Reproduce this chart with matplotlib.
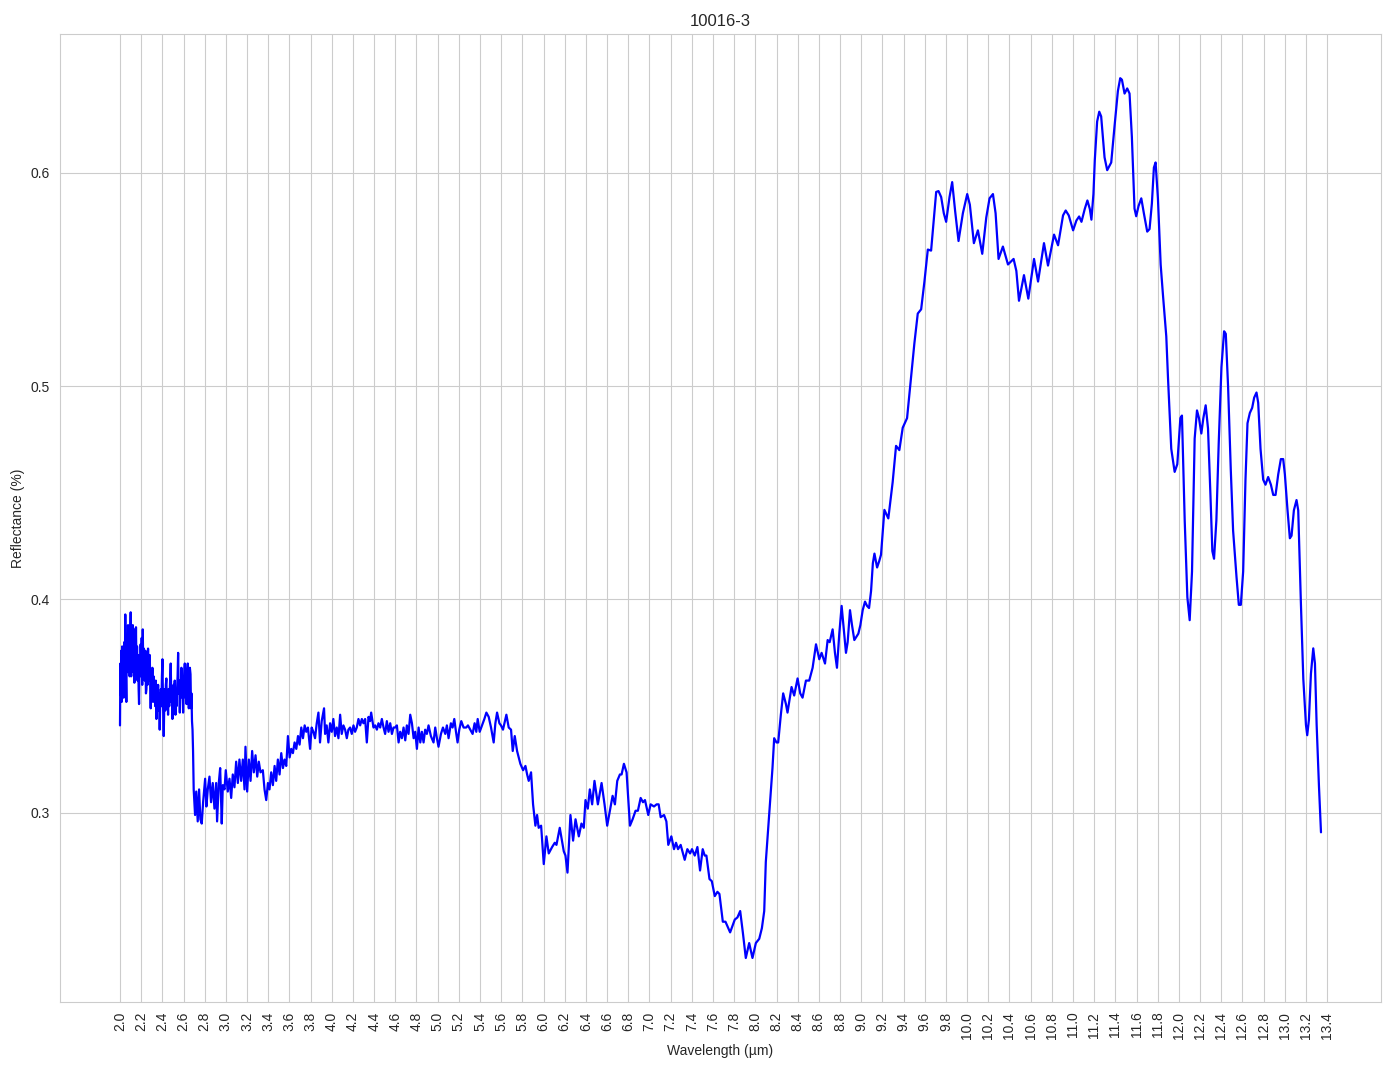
import numpy as np
import matplotlib
matplotlib.use("Agg")
import matplotlib.pyplot as plt
import seaborn as sns

title = "10016-3"
x_label = "Wavelength (µm)"
y_label = "Reflectance (%)"

# 2.00 - 2.69 noisy start
wl_a = [2.000, 2.004, 2.008, 2.012, 2.016, 2.020, 2.025, 2.030, 2.035, 2.040, 2.045, 2.050, 2.055, 2.060,
        2.065, 2.070, 2.076, 2.081, 2.086, 2.091, 2.096, 2.101, 2.106, 2.111, 2.116, 2.121, 2.126, 2.131,
        2.136, 2.141, 2.146, 2.151, 2.156, 2.161, 2.166, 2.171, 2.176, 2.180, 2.185, 2.190, 2.195, 2.200,
        2.205, 2.210, 2.215, 2.220, 2.225, 2.230, 2.235, 2.240, 2.245, 2.250, 2.255, 2.260, 2.265, 2.270,
        2.275, 2.281, 2.286, 2.290, 2.295, 2.300, 2.306, 2.312, 2.317, 2.322, 2.328, 2.333, 2.338, 2.344,
        2.349, 2.354, 2.360, 2.365, 2.370, 2.375, 2.380, 2.386, 2.391, 2.396, 2.401, 2.406, 2.413, 2.418,
        2.423, 2.428, 2.433, 2.438, 2.443, 2.449, 2.454, 2.459, 2.465, 2.470, 2.475, 2.479, 2.485, 2.490,
        2.495, 2.500, 2.506, 2.511, 2.517, 2.524, 2.529, 2.534, 2.539, 2.544, 2.549, 2.554, 2.559, 2.565,
        2.570, 2.575, 2.580, 2.585, 2.590, 2.596, 2.601, 2.606, 2.612, 2.617, 2.622, 2.628, 2.634, 2.640,
        2.645, 2.650, 2.655, 2.660, 2.666, 2.671, 2.675, 2.680, 2.685]
r_a = [0.341, 0.370, 0.355, 0.376, 0.352, 0.378, 0.360, 0.372, 0.354, 0.380, 0.362, 0.393, 0.365, 0.352,
       0.382, 0.366, 0.388, 0.368, 0.384, 0.364, 0.380, 0.394, 0.364, 0.385, 0.370, 0.388, 0.366, 0.380,
       0.361, 0.386, 0.368, 0.387, 0.365, 0.378, 0.362, 0.374, 0.358, 0.351, 0.372, 0.364, 0.379, 0.366,
       0.382, 0.360, 0.386, 0.368, 0.377, 0.374, 0.362, 0.376, 0.356, 0.358, 0.371, 0.360, 0.377, 0.362,
       0.370, 0.374, 0.360, 0.349, 0.366, 0.356, 0.368, 0.352, 0.364, 0.356, 0.361, 0.350, 0.362, 0.344,
       0.358, 0.350, 0.360, 0.348, 0.356, 0.339, 0.352, 0.358, 0.350, 0.364, 0.372, 0.352, 0.336, 0.350,
       0.358, 0.348, 0.360, 0.363, 0.350, 0.356, 0.346, 0.358, 0.350, 0.357, 0.364, 0.370, 0.352, 0.358,
       0.344, 0.354, 0.360, 0.352, 0.362, 0.346, 0.356, 0.350, 0.358, 0.364, 0.375, 0.356, 0.362, 0.347,
       0.360, 0.354, 0.368, 0.356, 0.362, 0.347, 0.358, 0.364, 0.370, 0.354, 0.362, 0.351, 0.366, 0.370,
       0.356, 0.349, 0.362, 0.368, 0.365, 0.349, 0.356, 0.343, 0.339]

# 2.69 - 3.82
wl_b = [2.690, 2.696, 2.709, 2.720, 2.734, 2.747, 2.759, 2.772, 2.785, 2.804, 2.816, 2.829, 2.845, 2.860,
        2.876, 2.892, 2.908, 2.917, 2.933, 2.946, 2.961, 2.971, 2.987, 2.999, 3.018, 3.034, 3.050, 3.065,
        3.081, 3.097, 3.113, 3.128, 3.144, 3.160, 3.176, 3.185, 3.201, 3.217, 3.233, 3.248, 3.264, 3.280,
        3.296, 3.311, 3.327, 3.349, 3.365, 3.381, 3.397, 3.412, 3.428, 3.444, 3.460, 3.475, 3.491, 3.507,
        3.523, 3.539, 3.554, 3.570, 3.586, 3.602, 3.617, 3.633, 3.649, 3.665, 3.681, 3.696, 3.712, 3.728,
        3.744, 3.759, 3.775, 3.795, 3.810]
r_b = [0.329, 0.311, 0.299, 0.310, 0.296, 0.311, 0.297, 0.295, 0.305, 0.316, 0.303, 0.311, 0.317, 0.305,
       0.314, 0.302, 0.314, 0.296, 0.314, 0.321, 0.295, 0.313, 0.311, 0.320, 0.310, 0.316, 0.307, 0.318,
       0.312, 0.324, 0.314, 0.325, 0.315, 0.325, 0.311, 0.331, 0.310, 0.325, 0.315, 0.329, 0.319, 0.327,
       0.317, 0.324, 0.319, 0.320, 0.311, 0.306, 0.314, 0.311, 0.319, 0.313, 0.322, 0.315, 0.325, 0.318,
       0.328, 0.321, 0.325, 0.322, 0.336, 0.326, 0.330, 0.328, 0.333, 0.330, 0.336, 0.332, 0.340, 0.335,
       0.341, 0.338, 0.340, 0.330, 0.340]

# 3.82 - 4.85
wl_c = [3.826, 3.842, 3.858, 3.874, 3.889, 3.905, 3.927, 3.937, 3.952, 3.968, 3.984, 4.000, 4.015, 4.031,
        4.047, 4.063, 4.079, 4.094, 4.110, 4.126, 4.142, 4.157, 4.173, 4.189, 4.205, 4.220, 4.236, 4.252,
        4.268, 4.284, 4.299, 4.315, 4.331, 4.347, 4.362, 4.372, 4.394, 4.410, 4.426, 4.441, 4.457, 4.473,
        4.489, 4.504, 4.520, 4.536, 4.552, 4.568, 4.583, 4.599, 4.615, 4.631, 4.646, 4.662, 4.678, 4.694,
        4.709, 4.725, 4.741, 4.757, 4.773, 4.788, 4.804, 4.820, 4.836]
r_c = [0.338, 0.335, 0.342, 0.347, 0.333, 0.343, 0.349, 0.337, 0.341, 0.333, 0.342, 0.338, 0.344, 0.336,
       0.340, 0.335, 0.346, 0.337, 0.341, 0.339, 0.335, 0.339, 0.340, 0.337, 0.341, 0.338, 0.340, 0.344,
       0.341, 0.344, 0.342, 0.344, 0.333, 0.345, 0.343, 0.347, 0.340, 0.341, 0.339, 0.342, 0.340, 0.344,
       0.340, 0.337, 0.343, 0.338, 0.342, 0.337, 0.340, 0.340, 0.341, 0.333, 0.338, 0.335, 0.340, 0.334,
       0.341, 0.337, 0.346, 0.342, 0.335, 0.338, 0.330, 0.340, 0.333]

# 4.85 - 5.85
wl_d = [4.851, 4.867, 4.882, 4.898, 4.914, 4.936, 4.961, 4.977, 4.993, 5.008, 5.031, 5.050, 5.072, 5.087,
        5.103, 5.125, 5.141, 5.157, 5.173, 5.188, 5.204, 5.223, 5.245, 5.270, 5.286, 5.308, 5.330, 5.349,
        5.365, 5.378, 5.397, 5.419, 5.441, 5.460, 5.482, 5.504, 5.529, 5.545, 5.561, 5.583, 5.598, 5.617,
        5.649, 5.671, 5.693, 5.709, 5.728, 5.750, 5.781, 5.807, 5.829, 5.845]
r_d = [0.338, 0.333, 0.339, 0.337, 0.341, 0.336, 0.333, 0.340, 0.335, 0.331, 0.337, 0.340, 0.337, 0.341,
       0.335, 0.342, 0.340, 0.344, 0.338, 0.333, 0.339, 0.343, 0.340, 0.340, 0.341, 0.339, 0.337, 0.342,
       0.338, 0.344, 0.338, 0.341, 0.344, 0.347, 0.345, 0.340, 0.333, 0.342, 0.347, 0.342, 0.341, 0.339,
       0.346, 0.340, 0.339, 0.329, 0.336, 0.329, 0.323, 0.320, 0.322, 0.318]

# 5.86 - 8.06
wl_e = [5.860, 5.882, 5.901, 5.923, 5.939, 5.954, 5.977, 6.002, 6.027, 6.049, 6.081, 6.106, 6.122, 6.153,
        6.191, 6.207, 6.226, 6.254, 6.279, 6.302, 6.333, 6.358, 6.380, 6.396, 6.418, 6.437, 6.459, 6.481,
        6.513, 6.548, 6.576, 6.601, 6.626, 6.652, 6.674, 6.696, 6.721, 6.737, 6.759, 6.784, 6.816, 6.841,
        6.869, 6.891, 6.917, 6.939, 6.958, 6.989, 7.011, 7.043, 7.068, 7.087, 7.106, 7.138, 7.160, 7.178,
        7.207, 7.232, 7.251, 7.270, 7.295, 7.333, 7.358, 7.384, 7.402, 7.428, 7.453, 7.478, 7.503, 7.522,
        7.538, 7.567, 7.589, 7.617, 7.642, 7.661, 7.693, 7.718, 7.762, 7.806, 7.831, 7.857, 7.882, 7.910,
        7.942, 7.973, 8.005, 8.037, 8.062]
r_e = [0.315, 0.319, 0.304, 0.294, 0.299, 0.293, 0.294, 0.276, 0.289, 0.281, 0.284, 0.286, 0.285, 0.293,
       0.282, 0.280, 0.272, 0.299, 0.287, 0.297, 0.289, 0.295, 0.293, 0.306, 0.302, 0.311, 0.304, 0.315,
       0.304, 0.314, 0.304, 0.294, 0.301, 0.308, 0.304, 0.315, 0.318, 0.318, 0.323, 0.319, 0.294, 0.297,
       0.301, 0.301, 0.307, 0.305, 0.306, 0.299, 0.304, 0.303, 0.304, 0.304, 0.298, 0.299, 0.296, 0.285,
       0.289, 0.283, 0.286, 0.283, 0.285, 0.278, 0.283, 0.281, 0.283, 0.280, 0.284, 0.273, 0.283, 0.280,
       0.280, 0.269, 0.268, 0.261, 0.263, 0.262, 0.249, 0.249, 0.244, 0.250, 0.251, 0.254, 0.244, 0.232,
       0.239, 0.232, 0.239, 0.241, 0.246]

# 8.08 - 9.17
wl_f = [8.084, 8.099, 8.131, 8.162, 8.178, 8.200, 8.216, 8.241, 8.263, 8.289, 8.304, 8.342, 8.367, 8.399,
        8.424, 8.446, 8.478, 8.509, 8.541, 8.573, 8.604, 8.626, 8.658, 8.683, 8.702, 8.730, 8.752, 8.771,
        8.793, 8.815, 8.834, 8.856, 8.872, 8.894, 8.913, 8.935, 8.973, 8.992, 9.014, 9.036, 9.055, 9.074,
        9.093, 9.110, 9.125, 9.150, 9.170]
r_f = [0.254, 0.277, 0.299, 0.321, 0.335, 0.333, 0.333, 0.346, 0.356, 0.351, 0.347, 0.359, 0.355, 0.363,
       0.356, 0.354, 0.362, 0.362, 0.368, 0.379, 0.372, 0.375, 0.370, 0.381, 0.380, 0.386, 0.375, 0.368,
       0.384, 0.397, 0.387, 0.375, 0.380, 0.395, 0.388, 0.381, 0.384, 0.388, 0.395, 0.399, 0.397, 0.396,
       0.404, 0.417, 0.4215, 0.415, 0.418]

# 9.19 - 11.25
wl_g = [9.187, 9.219, 9.256, 9.297, 9.329, 9.360, 9.392, 9.433, 9.471, 9.502, 9.534, 9.566, 9.597, 9.629,
        9.660, 9.685, 9.708, 9.730, 9.755, 9.780, 9.802, 9.834, 9.859, 9.887, 9.919, 9.960, 10.001, 10.026,
        10.064, 10.102, 10.143, 10.181, 10.212, 10.244, 10.269, 10.297, 10.338, 10.386, 10.439, 10.465,
        10.490, 10.537, 10.578, 10.632, 10.670, 10.726, 10.764, 10.821, 10.859, 10.906, 10.931, 10.960,
        11.001, 11.032, 11.058, 11.080, 11.111, 11.136, 11.159, 11.174, 11.193, 11.206, 11.228, 11.248]
r_g = [0.421, 0.442, 0.438, 0.455, 0.472, 0.470, 0.4805, 0.485, 0.504, 0.520, 0.534, 0.536, 0.549, 0.564,
       0.5635, 0.578, 0.591, 0.5914, 0.5886, 0.581, 0.577, 0.5886, 0.5956, 0.582, 0.568, 0.581, 0.590, 0.585,
       0.567, 0.573, 0.562, 0.579, 0.588, 0.590, 0.581, 0.5596, 0.5654, 0.557, 0.5596, 0.554,
       0.540, 0.552, 0.541, 0.5596, 0.549, 0.567, 0.5565, 0.571, 0.566, 0.580, 0.5823, 0.580,
       0.573, 0.5776, 0.5795, 0.577, 0.583, 0.587, 0.583, 0.578, 0.590, 0.606, 0.624, 0.6286]

# 11.27 - 13.34
wl_h = [11.266, 11.298, 11.323, 11.361, 11.392, 11.424, 11.446, 11.462, 11.487, 11.512, 11.534, 11.556,
        11.581, 11.597, 11.619, 11.645, 11.670, 11.701, 11.723, 11.745, 11.764, 11.780, 11.802, 11.828,
        11.850, 11.881, 11.897, 11.928, 11.960, 11.985, 12.014, 12.029, 12.055, 12.080, 12.102, 12.124,
        12.149, 12.171, 12.190, 12.212, 12.231, 12.253, 12.275, 12.298, 12.316, 12.332, 12.354, 12.376,
        12.402, 12.427, 12.443, 12.465, 12.490, 12.512, 12.544, 12.566, 12.585, 12.607, 12.629, 12.648,
        12.670, 12.692, 12.711, 12.733, 12.749, 12.771, 12.796, 12.818, 12.843, 12.869, 12.891, 12.913,
        12.938, 12.963, 12.985, 13.001, 13.026, 13.048, 13.064, 13.086, 13.111, 13.127, 13.152, 13.175,
        13.200, 13.212, 13.228, 13.247, 13.269, 13.285, 13.301, 13.323, 13.342]
r_h = [0.6264, 0.6072, 0.6012, 0.6048, 0.6216, 0.6383, 0.6443, 0.6436, 0.6371, 0.6395, 0.6371, 0.6168,
       0.5832, 0.5796, 0.5844, 0.5880, 0.5808, 0.5724, 0.5736, 0.5856, 0.6024, 0.6048, 0.5880, 0.5569,
       0.5425, 0.5233, 0.5041, 0.4706, 0.4598, 0.4634, 0.4850, 0.4862, 0.4370, 0.4011, 0.3903, 0.4131,
       0.4754, 0.4886, 0.4850, 0.4778, 0.4850, 0.4910, 0.4802, 0.4490, 0.4227, 0.4191, 0.4370, 0.4730,
       0.5089, 0.5257, 0.5245, 0.4994, 0.4610, 0.4323, 0.4107, 0.3975, 0.3975, 0.4131, 0.4562, 0.4826,
       0.4874, 0.4898, 0.4946, 0.4970, 0.4922, 0.4706, 0.4562, 0.4538, 0.4574, 0.4538, 0.4490, 0.4490,
       0.4586, 0.4658, 0.4658, 0.4586, 0.4418, 0.4287, 0.4299, 0.4418, 0.4466, 0.4418, 0.3987, 0.3628,
       0.3412, 0.3364, 0.3436, 0.3652, 0.3771, 0.3700, 0.3412, 0.3124, 0.2909]

wavelength = wl_a + wl_b + wl_c + wl_d + wl_e + wl_f + wl_g + wl_h
reflectance = r_a + r_b + r_c + r_d + r_e + r_f + r_g + r_h

x_ticks = [round(2.0 + 0.2 * i, 1) for i in range(58)]
x_tick_labels = [f"{t:.1f}" for t in x_ticks]

sns.set_style("whitegrid")
plt.rcParams['font.family'] = ['Liberation Sans', 'DejaVu Sans']

fig, ax = plt.subplots(figsize=(13.94, 10.69), dpi=100)
ax.plot(wavelength, reflectance, color="#0000ff", linewidth=1.6)
ax.set_xticks(x_ticks)
ax.set_xticklabels(x_tick_labels, rotation=90)
ax.set_title(title, fontsize=12)
ax.set_xlabel(x_label, fontsize=10)
ax.set_ylabel(y_label, fontsize=10)
ax.tick_params(labelsize=10)
fig.subplots_adjust(left=0.043, right=0.9907, top=0.968, bottom=0.0627)
fig.savefig("out.png", dpi=100)
